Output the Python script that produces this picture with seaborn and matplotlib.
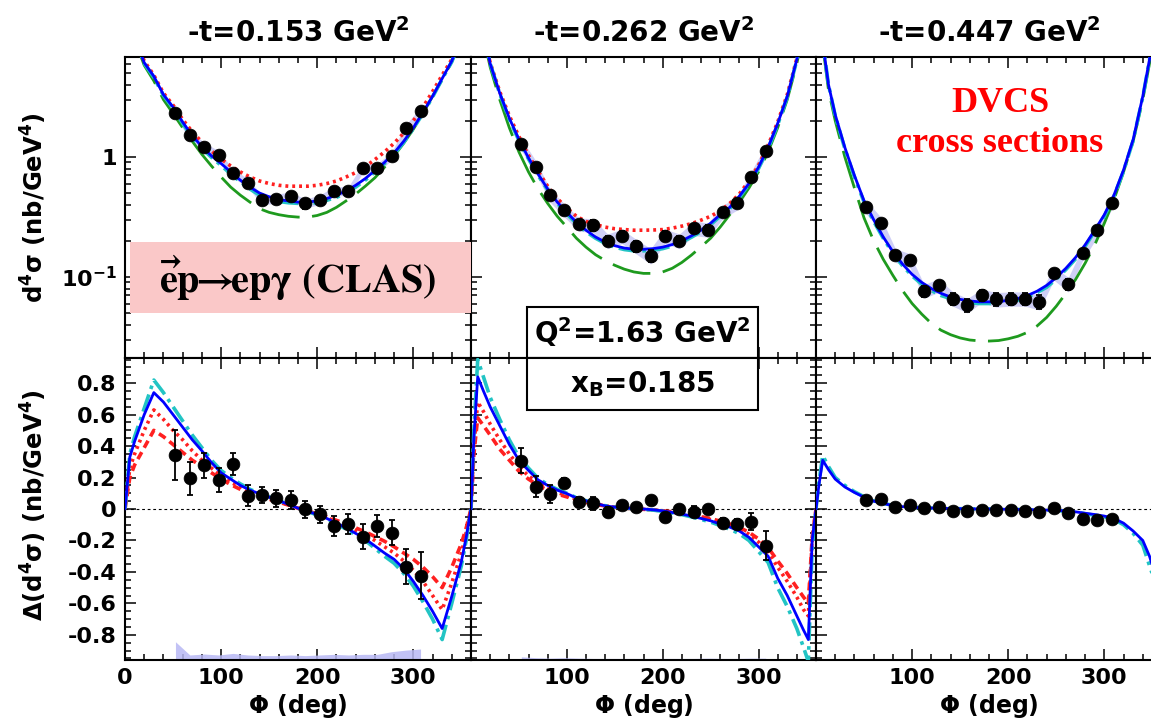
import matplotlib
matplotlib.use("Agg")
import matplotlib.pyplot as plt
import numpy as np
import pandas as pd
import seaborn as sns
from matplotlib.patches import Rectangle
from matplotlib.ticker import MultipleLocator, FixedLocator, NullFormatter, LogLocator

# ------------------------------------------------------------------ data
PANEL_TITLES = [r"-t=0.153 GeV$^{\mathbf{2}}$", r"-t=0.262 GeV$^{\mathbf{2}}$",
                r"-t=0.447 GeV$^{\mathbf{2}}$"]

PHI_DATA = [52.5, 67.5, 82.5, 97.5, 112.5, 127.5, 142.5, 157.5, 172.5, 187.5,
            202.5, 217.5, 232.5, 247.5, 262.5, 277.5, 292.5, 307.5]

# model-curve phi grids
PHI_A = [0, 5, 10, 20, 30, 40, 50, 60, 70, 80, 90, 100, 110, 120, 130, 140, 150,
         160, 170, 180, 190, 200, 210, 220, 230, 240, 250, 260, 270, 280, 290,
         300, 310, 320, 330, 340, 350, 355, 360]
PHI_B = [0, 3, 7, 13, 20, 30, 40, 50, 60, 70, 80, 90, 100, 110, 120, 130, 140,
         150, 160, 170, 180, 190, 200, 210, 220, 230, 240, 250, 260, 270, 280,
         290, 300, 310, 320, 330, 340, 347, 352, 356, 360]

# ---- panel 1 (-t = 0.153)
TOP1_BLUE = [30, 16, 10, 6.1, 4.7, 3.3, 2.6, 1.95, 1.5, 1.22,
             1.02, 0.88, 0.75, 0.64, 0.56, 0.5, 0.465, 0.44, 0.43, 0.42,
             0.42, 0.43, 0.45, 0.48, 0.52, 0.58, 0.66, 0.77, 0.9, 1.08,
             1.35, 1.75, 2.35, 3.2, 4.5, 6.3, 10, 16, 30]
TOP1_CYAN = [30, 16, 10, 6.0, 4.6, 3.25, 2.55, 1.9, 1.45, 1.18,
             0.99, 0.85, 0.72, 0.62, 0.54, 0.48, 0.445, 0.425, 0.415, 0.41,
             0.41, 0.415, 0.435, 0.46, 0.5, 0.56, 0.64, 0.75, 0.88, 1.05,
             1.32, 1.72, 2.3, 3.15, 4.45, 6.2, 10, 16, 30]
TOP1_RED = [30, 16, 10, 6.3, 4.8, 3.4, 2.7, 2.05, 1.62, 1.33,
            1.12, 0.96, 0.84, 0.75, 0.68, 0.63, 0.6, 0.58, 0.57, 0.57,
            0.57, 0.58, 0.6, 0.63, 0.68, 0.74, 0.83, 0.95, 1.1, 1.3,
            1.58, 2.0, 2.6, 3.5, 4.8, 6.5, 10, 16, 30]
TOP1_GREEN = [30, 15, 9.5, 5.8, 4.3, 3.0, 2.3, 1.75, 1.35, 1.05,
              0.84, 0.68, 0.56, 0.48, 0.42, 0.37, 0.345, 0.33, 0.32, 0.315,
              0.315, 0.325, 0.345, 0.38, 0.43, 0.49, 0.57, 0.67, 0.82, 1.02,
              1.3, 1.7, 2.3, 3.2, 4.4, 6.2, 9.5, 15, 30]
BOT1_BLUE = [0.0, 0.33, 0.43, 0.6, 0.74, 0.68, 0.6, 0.52, 0.44, 0.37,
             0.295, 0.23, 0.19, 0.15, 0.12, 0.097, 0.075, 0.053, 0.03, 0.005,
             -0.014, -0.035, -0.06, -0.09, -0.12, -0.155, -0.19, -0.235, -0.28, -0.32,
             -0.38, -0.46, -0.55, -0.65, -0.76, -0.555, -0.333, -0.18, 0.0]
BOT1_CYAN = [0.0, 0.35, 0.46, 0.64, 0.82, 0.74, 0.65, 0.56, 0.47, 0.39,
             0.31, 0.245, 0.2, 0.16, 0.125, 0.1, 0.077, 0.054, 0.03, 0.005,
             -0.016, -0.038, -0.065, -0.095, -0.128, -0.165, -0.2, -0.25, -0.3, -0.345,
             -0.41, -0.49, -0.59, -0.7, -0.83, -0.6, -0.36, -0.2, 0.0]
BOT1_RED_DOT = [0.0, 0.26, 0.35, 0.5, 0.63, 0.57, 0.5, 0.44, 0.37, 0.31,
                0.26, 0.21, 0.17, 0.14, 0.11, 0.088, 0.068, 0.048, 0.027, 0.005,
                -0.014, -0.034, -0.056, -0.08, -0.105, -0.135, -0.165, -0.2, -0.24, -0.28,
                -0.33, -0.39, -0.46, -0.55, -0.64, -0.47, -0.28, -0.15, 0.0]
BOT1_RED_DASH = [0.0, 0.2, 0.28, 0.39, 0.5, 0.46, 0.41, 0.36, 0.31, 0.27,
                 0.23, 0.19, 0.155, 0.125, 0.1, 0.08, 0.062, 0.044, 0.025, 0.005,
                 -0.013, -0.031, -0.05, -0.072, -0.095, -0.12, -0.145, -0.175, -0.205, -0.24,
                 -0.28, -0.32, -0.37, -0.43, -0.5, -0.37, -0.22, -0.12, 0.0]
TOP1_D = [2.34, 1.52, 1.22, 1.04, 0.73, 0.61, 0.44, 0.45, 0.47, 0.41,
          0.44, 0.52, 0.52, 0.81, 0.81, 1.02, 1.73, 2.39]
TOP1_E = [0.12, 0.08, 0.06, 0.05, 0.04, 0.04, 0.03, 0.03, 0.03, 0.04,
          0.03, 0.03, 0.03, 0.04, 0.04, 0.05, 0.09, 0.12]
TOP1_S = [0.2, 0.12, 0.1, 0.08, 0.06, 0.05, 0.04, 0.04, 0.04, 0.035,
          0.04, 0.045, 0.045, 0.07, 0.07, 0.08, 0.14, 0.2]
BOT1_D = [0.343, 0.195, 0.279, 0.184, 0.286, 0.085, 0.089, 0.068, 0.057, -0.002,
          -0.034, -0.108, -0.095, -0.176, -0.108, -0.15, -0.366, -0.425]
BOT1_E = [0.157, 0.103, 0.08, 0.076, 0.069, 0.068, 0.053, 0.053, 0.059, 0.056,
          0.053, 0.061, 0.063, 0.08, 0.069, 0.08, 0.111, 0.15]
BOT1_S = [0.116, 0.032, 0.038, 0.032, 0.042, 0.032, 0.028, 0.028, 0.032, 0.028,
          0.032, 0.036, 0.032, 0.036, 0.036, 0.053, 0.063, 0.07]

# ---- panel 2 (-t = 0.262)
TOP2_BLUE = [60, 40, 22, 11,
             6.0, 3.4, 2.1, 1.4, 0.98, 0.72, 0.54, 0.42, 0.345, 0.285,
             0.245, 0.215, 0.195, 0.182, 0.174, 0.17, 0.17, 0.172, 0.177, 0.186,
             0.2, 0.22, 0.245, 0.28, 0.33, 0.38, 0.47, 0.6, 0.82, 1.2,
             1.9, 3.2, 6.5, 12, 20, 35, 60]
TOP2_CYAN = [60, 40, 22, 11,
             6.0, 3.35, 2.05, 1.37, 0.96, 0.7, 0.53, 0.41, 0.335, 0.278,
             0.238, 0.21, 0.19, 0.177, 0.169, 0.165, 0.165, 0.167, 0.172, 0.181,
             0.195, 0.214, 0.238, 0.272, 0.32, 0.37, 0.46, 0.59, 0.8, 1.17,
             1.85, 3.15, 6.4, 12, 20, 35, 60]
TOP2_RED = [60, 40, 22, 11,
            6.1, 3.5, 2.2, 1.48, 1.03, 0.76, 0.57, 0.45, 0.375, 0.32,
            0.29, 0.273, 0.26, 0.252, 0.248, 0.245, 0.245, 0.246, 0.248, 0.255,
            0.265, 0.278, 0.297, 0.32, 0.355, 0.41, 0.49, 0.63, 0.85, 1.25,
            1.95, 3.3, 6.6, 12, 20, 35, 60]
TOP2_GREEN = [60, 38, 20, 10,
              5.6, 3.0, 1.75, 1.1, 0.75, 0.54, 0.41, 0.32, 0.26, 0.21,
              0.177, 0.153, 0.137, 0.125, 0.116, 0.11, 0.107, 0.107, 0.11, 0.118,
              0.132, 0.152, 0.178, 0.21, 0.26, 0.33, 0.42, 0.55, 0.75, 1.1,
              1.75, 3.0, 6.0, 11, 19, 33, 60]
BOT2_BLUE = [0.0, 0.45, 0.84, 0.75,
             0.65, 0.53, 0.41, 0.31, 0.245, 0.185, 0.15, 0.12, 0.098, 0.07,
             0.052, 0.035, 0.02, 0.012, 0.007, 0.003, 0.0, -0.005, -0.012, -0.022,
             -0.032, -0.045, -0.06, -0.075, -0.095, -0.115, -0.14, -0.18, -0.24, -0.3,
             -0.44, -0.55, -0.68, -0.77, -0.83, -0.2, 0.0]
BOT2_CYAN = [0.0, 0.5, 0.95, 0.84,
             0.71, 0.57, 0.44, 0.33, 0.26, 0.195, 0.155, 0.125, 0.1, 0.072,
             0.053, 0.036, 0.021, 0.012, 0.006, 0.002, -0.002, -0.007, -0.015, -0.025,
             -0.036, -0.05, -0.066, -0.083, -0.105, -0.128, -0.157, -0.2, -0.27, -0.34,
             -0.5, -0.62, -0.76, -0.88, -0.97, -0.25, 0.0]
BOT2_RED_DOT = [0.0, 0.4, 0.68, 0.62,
                0.54, 0.44, 0.35, 0.27, 0.21, 0.165, 0.13, 0.105, 0.085, 0.062,
                0.046, 0.032, 0.02, 0.012, 0.006, 0.002, -0.002, -0.006, -0.012, -0.02,
                -0.029, -0.04, -0.053, -0.067, -0.085, -0.104, -0.127, -0.16, -0.21, -0.27,
                -0.37, -0.46, -0.56, -0.64, -0.68, -0.2, 0.0]
BOT2_RED_DASH = [0.0, 0.35, 0.58, 0.53,
                 0.47, 0.38, 0.31, 0.24, 0.19, 0.15, 0.12, 0.095, 0.077, 0.057,
                 0.042, 0.03, 0.019, 0.011, 0.006, 0.002, -0.002, -0.006, -0.011, -0.018,
                 -0.026, -0.036, -0.048, -0.061, -0.077, -0.095, -0.117, -0.148, -0.19, -0.245,
                 -0.33, -0.41, -0.5, -0.56, -0.6, -0.18, 0.0]
TOP2_D = [1.28, 0.83, 0.48, 0.36, 0.275, 0.27, 0.2, 0.22, 0.18, 0.15,
          0.22, 0.2, 0.256, 0.248, 0.35, 0.41, 0.68, 1.12]
TOP2_E = [0.08, 0.06, 0.03, 0.025, 0.02, 0.03, 0.02, 0.02, 0.02, 0.018,
          0.02, 0.02, 0.02, 0.025, 0.025, 0.03, 0.05, 0.07]
TOP2_S = [0.15, 0.1, 0.06, 0.045, 0.035, 0.035, 0.028, 0.03, 0.025, 0.022,
          0.03, 0.028, 0.035, 0.034, 0.045, 0.05, 0.08, 0.13]
BOT2_D = [0.307, 0.142, 0.095, 0.167, 0.046, 0.036, -0.017, 0.025, 0.011, 0.057,
          -0.049, 0.0, -0.017, -0.002, -0.087, -0.095, -0.081, -0.235]
BOT2_E = [0.081, 0.067, 0.058, 0.03, 0.032, 0.04, 0.032, 0.025, 0.027, 0.025,
          0.025, 0.027, 0.034, 0.029, 0.029, 0.031, 0.053, 0.092]
BOT2_S = [0.02, 0.015, 0.012, 0.015, 0.012, 0.01, 0.01, 0.01, 0.01, 0.01,
          0.01, 0.01, 0.01, 0.012, 0.01, 0.01, 0.012, 0.012]

# ---- panel 3 (-t = 0.447)
TOP3_BLUE = [60, 25, 9.0, 4.0,
             2.25, 1.2, 0.7, 0.43, 0.3, 0.215, 0.162, 0.128, 0.105, 0.09,
             0.08, 0.073, 0.068, 0.065, 0.063, 0.062, 0.062, 0.062, 0.064, 0.066,
             0.07, 0.076, 0.085, 0.099, 0.118, 0.145, 0.185, 0.245, 0.33, 0.48,
             0.78, 1.4, 3.2, 6.5, 12, 25, 60]
TOP3_CYAN = [60, 25, 9.0, 4.0,
             2.2, 1.17, 0.68, 0.42, 0.29, 0.21, 0.157, 0.124, 0.102, 0.087,
             0.077, 0.07, 0.066, 0.063, 0.061, 0.06, 0.06, 0.06, 0.062, 0.064,
             0.068, 0.074, 0.082, 0.096, 0.115, 0.141, 0.18, 0.24, 0.32, 0.47,
             0.76, 1.37, 3.15, 6.4, 12, 25, 60]
TOP3_GREEN = [60, 24, 8.5, 3.6,
              2.0, 1.0, 0.55, 0.31, 0.2, 0.14, 0.103, 0.077, 0.06, 0.049,
              0.041, 0.036, 0.033, 0.031, 0.0298, 0.0293, 0.0292, 0.0295, 0.0305, 0.032,
              0.0345, 0.039, 0.046, 0.057, 0.073, 0.095, 0.13, 0.185, 0.28, 0.44,
              0.75, 1.35, 3.0, 6.0, 11, 24, 60]
BOT3_BLUE = [0.0, 0.15, 0.31, 0.25,
             0.19, 0.14, 0.105, 0.075, 0.05, 0.035, 0.022, 0.015, 0.01, 0.008,
             0.006, 0.005, 0.003, 0.002, 0.001, 0.0, 0.0, -0.001, -0.002, -0.003,
             -0.004, -0.005, -0.007, -0.009, -0.012, -0.018, -0.027, -0.035, -0.045, -0.06,
             -0.09, -0.14, -0.2, -0.3, -0.4, -0.3, 0.0]
BOT3_CYAN = [0.0, 0.17, 0.34, 0.27,
             0.2, 0.15, 0.11, 0.078, 0.052, 0.036, 0.023, 0.016, 0.011, 0.008,
             0.006, 0.005, 0.003, 0.002, 0.001, 0.0, 0.0, -0.001, -0.002, -0.003,
             -0.004, -0.006, -0.008, -0.01, -0.014, -0.02, -0.03, -0.04, -0.05, -0.067,
             -0.1, -0.155, -0.23, -0.36, -0.45, -0.33, 0.0]
TOP3_D = [0.383, 0.279, 0.152, 0.138, 0.0764, 0.0853, 0.066, 0.058, 0.0704, 0.065,
          0.066, 0.066, 0.062, 0.108, 0.087, 0.157, 0.245, 0.414]
TOP3_E = [0.025, 0.02, 0.01, 0.01, 0.008, 0.008, 0.008, 0.007, 0.008, 0.008,
          0.008, 0.008, 0.008, 0.009, 0.009, 0.012, 0.018, 0.03]
TOP3_S = [0.05, 0.035, 0.02, 0.018, 0.01, 0.011, 0.009, 0.008, 0.009, 0.009,
          0.009, 0.009, 0.009, 0.014, 0.012, 0.02, 0.03, 0.05]
BOT3_D = [0.057, 0.061, 0.011, 0.025, 0.004, 0.015, -0.013, -0.013, -0.006, -0.006,
          -0.006, -0.011, -0.021, 0.004, -0.027, -0.065, -0.07, -0.065]
BOT3_E = [0.012, 0.01, 0.01, 0.01, 0.01, 0.01, 0.01, 0.01, 0.01, 0.01,
          0.01, 0.01, 0.01, 0.01, 0.01, 0.012, 0.012, 0.012]
BOT3_S = [0.006, 0.005, 0.005, 0.005, 0.005, 0.005, 0.005, 0.005, 0.005, 0.005,
          0.005, 0.005, 0.005, 0.005, 0.005, 0.005, 0.005, 0.006]

Y_TOP_LIM = (0.0211, 6.8)
Y_BOT_LIM = (-0.96, 0.96)

# ------------------------------------------------------------------ style
sns.set_theme(style="ticks")
plt.rcParams["font.family"] = ["DejaVu Sans"]
plt.rcParams["font.weight"] = "bold"
plt.rcParams["mathtext.fontset"] = "dejavusans"
plt.rcParams["text.color"] = "black"
plt.rcParams["axes.labelcolor"] = "black"
plt.rcParams["axes.edgecolor"] = "black"
plt.rcParams["axes.linewidth"] = 1.5
plt.rcParams["xtick.color"] = "black"
plt.rcParams["ytick.color"] = "black"
plt.rcParams["xtick.labelcolor"] = "black"
plt.rcParams["ytick.labelcolor"] = "black"

STY = {
    "green": dict(color="#1e9a1e", linewidth=2.0, linestyle=(0, (14, 4.5))),
    "red_dash": dict(color="#ff2020", linewidth=2.6, linestyle=(0, (2.2, 1.4))),
    "red_dot": dict(color="#ff2020", linewidth=2.6, linestyle=(0, (0.8, 1.1))),
    "cyan": dict(color="#22c4c4", linewidth=2.6, linestyle=(0, (5, 1.6, 1, 1.6))),
    "blue": dict(color="#0000ff", linewidth=2.0, linestyle="-"),
}
ORDER = ["green", "red_dash", "red_dot", "cyan", "blue"]

W, H = 1151.0, 725.0
COLS = [(125, 471), (471, 816), (816, 1162)]
ROWS = [(57, 358), (358, 660)]


def rect(c, r):
    x0, x1 = c
    y0, y1 = r
    return [x0 / W, 1 - y1 / H, (x1 - x0) / W, (y1 - y0) / H]


panels = [
    dict(phi=PHI_A,
         top=dict(green=TOP1_GREEN, red_dot=TOP1_RED, cyan=TOP1_CYAN, blue=TOP1_BLUE),
         bot=dict(red_dash=BOT1_RED_DASH, red_dot=BOT1_RED_DOT, cyan=BOT1_CYAN, blue=BOT1_BLUE),
         td=TOP1_D, te=TOP1_E, ts=TOP1_S, bd=BOT1_D, be=BOT1_E, bs=BOT1_S),
    dict(phi=PHI_B,
         top=dict(green=TOP2_GREEN, red_dot=TOP2_RED, cyan=TOP2_CYAN, blue=TOP2_BLUE),
         bot=dict(red_dash=BOT2_RED_DASH, red_dot=BOT2_RED_DOT, cyan=BOT2_CYAN, blue=BOT2_BLUE),
         td=TOP2_D, te=TOP2_E, ts=TOP2_S, bd=BOT2_D, be=BOT2_E, bs=BOT2_S),
    dict(phi=PHI_B,
         top=dict(green=TOP3_GREEN, cyan=TOP3_CYAN, blue=TOP3_BLUE),
         bot=dict(cyan=BOT3_CYAN, blue=BOT3_BLUE),
         td=TOP3_D, te=TOP3_E, ts=TOP3_S, bd=BOT3_D, be=BOT3_E, bs=BOT3_S),
]

fig = plt.figure(figsize=(11.51, 7.25), dpi=100)


def style_axes(ax):
    ax.tick_params(which="both", direction="in", top=True, right=True,
                   labelsize=16, colors="black", width=1.1)
    ax.tick_params(which="major", length=8, pad=6)
    ax.tick_params(which="minor", length=4)
    for sp in ax.spines.values():
        sp.set_visible(True)
        sp.set_linewidth(1.5)
        sp.set_color("black")


def draw_curves(ax, phi, curves):
    for key in ORDER:
        if key in curves:
            df = pd.DataFrame({"phi": phi, "val": curves[key]})
            sns.lineplot(data=df, x="phi", y="val", ax=ax, errorbar=None,
                         sort=False, legend=False, zorder=3, **STY[key])


def draw_points(ax, x, y, e):
    ax.errorbar(x, y, yerr=e, fmt="none", ecolor="black", elinewidth=1.3,
                capsize=2.5, capthick=1.3, zorder=5)
    sns.scatterplot(x=x, y=y, ax=ax, color="black", s=85, edgecolor="black",
                    linewidth=0.5, zorder=6, legend=False)


for i, p in enumerate(panels):
    axt = fig.add_axes(rect(COLS[i], ROWS[0]))
    axb = fig.add_axes(rect(COLS[i], ROWS[1]))

    # ---------------- top: cross sections (log)
    axt.set_yscale("log")
    td = np.array(p["td"]); ts = np.array(p["ts"])
    axt.fill_between(PHI_DATA, td - ts, td + ts, color="#b0b0f0", alpha=0.6,
                     linewidth=0, zorder=2)
    draw_curves(axt, p["phi"], p["top"])
    draw_points(axt, PHI_DATA, p["td"], p["te"])
    axt.set_xlim(0, 360)
    axt.set_ylim(*Y_TOP_LIM)
    axt.yaxis.set_major_locator(FixedLocator([0.1, 1.0]))
    axt.yaxis.set_minor_locator(LogLocator(base=10, subs=np.arange(2, 10)))
    axt.yaxis.set_minor_formatter(NullFormatter())
    if i == 0:
        axt.set_yticklabels([r"10$^{\mathbf{-1}}$", "1"])
    else:
        axt.set_yticklabels(["", ""])
    axt.xaxis.set_major_locator(MultipleLocator(100))
    axt.xaxis.set_minor_locator(MultipleLocator(20))
    axt.set_xticklabels([])
    style_axes(axt)
    axt.tick_params(labelbottom=False)
    axt.set_xlabel("")
    axt.set_ylabel("")
    axt.set_title(PANEL_TITLES[i], fontsize=20, fontweight="bold", pad=11,
                  color="black")

    # ---------------- bottom: beam-spin difference
    bs = np.array(p["bs"])
    axb.fill_between(PHI_DATA, Y_BOT_LIM[0], Y_BOT_LIM[0] + bs, color="#b8b8f4",
                     alpha=0.85, linewidth=0, zorder=2)
    axb.axhline(0, color="black", linewidth=0.8, linestyle=(0, (2.5, 2.5)), zorder=1)
    draw_curves(axb, p["phi"], p["bot"])
    draw_points(axb, PHI_DATA, p["bd"], p["be"])
    axb.set_xlim(0, 360)
    axb.set_ylim(*Y_BOT_LIM)
    axb.set_xticks([0, 100, 200, 300])
    axb.set_xticklabels(["0" if i == 0 else "", "100", "200", "300"])
    axb.xaxis.set_minor_locator(MultipleLocator(20))
    yt = [-0.8, -0.6, -0.4, -0.2, 0.0, 0.2, 0.4, 0.6, 0.8]
    axb.set_yticks(yt)
    if i == 0:
        axb.set_yticklabels(["-0.8", "-0.6", "-0.4", "-0.2", "0", "0.2", "0.4", "0.6", "0.8"])
    else:
        axb.set_yticklabels([""] * len(yt))
    axb.yaxis.set_minor_locator(MultipleLocator(0.05))
    style_axes(axb)
    axb.set_ylabel("")
    axb.set_xlabel(r"$\Phi$ (deg)", fontsize=17, fontweight="bold", labelpad=3,
                   color="black")

    if i == 1:
        # kinematics box straddling the two rows
        axt.add_patch(Rectangle((0.162, 0.0), 0.67, 0.17, transform=axt.transAxes,
                                facecolor="white", edgecolor="black", linewidth=1.5,
                                zorder=8, clip_on=False))
        axt.text(0.497, 0.085, r"Q$^{\mathbf{2}}$=1.63 GeV$^{\mathbf{2}}$",
                 transform=axt.transAxes, ha="center", va="center",
                 fontsize=20, fontweight="bold", zorder=9, color="black")
        axb.add_patch(Rectangle((0.162, 0.828), 0.67, 0.172, transform=axb.transAxes,
                                facecolor="white", edgecolor="black", linewidth=1.5,
                                zorder=8, clip_on=False))
        axb.text(0.497, 0.912, r"x$_{\mathbf{B}}$=0.185",
                 transform=axb.transAxes, ha="center", va="center",
                 fontsize=20, fontweight="bold", zorder=9, color="black")

# axis titles (rows)
fig.text(34 / W, 1 - 208 / H, r"d$^{\mathbf{4}}\mathrm{\sigma}$ (nb/GeV$^{\mathbf{4}}$)",
         rotation=90, ha="center", va="center", fontsize=17.5, fontweight="bold",
         color="black")
fig.text(34 / W, 1 - 505 / H,
         r"$\Delta$(d$^{\mathbf{4}}\mathrm{\sigma}$) (nb/GeV$^{\mathbf{4}}$)",
         rotation=90, ha="center", va="center", fontsize=17.5, fontweight="bold",
         color="black")

# pink reaction label
fig.patches.append(Rectangle((130 / W, 1 - 313 / H), (471 - 130) / W, (313 - 242) / H,
                             transform=fig.transFigure, facecolor="#fac8c8",
                             edgecolor="none", zorder=10))
fig.text(298 / W, 1 - 293 / H,
         r"$\mathbf{\vec{e}p}\!\!\rightarrow\!\!\mathbf{ep\gamma}\ \mathbf{(CLAS)}$",
         ha="center", va="baseline", fontsize=29, math_fontfamily="stix",
         color="black", zorder=11)

# red annotation
fig.text(1000 / W, 1 - 112 / H, "DVCS", ha="center", va="baseline",
         family="Liberation Serif", fontweight="bold", fontsize=26, color="red", zorder=11)
fig.text(1000 / W, 1 - 152 / H, "cross sections", ha="center", va="baseline",
         family="Liberation Serif", fontweight="bold", fontsize=26, color="red", zorder=11)

fig.savefig("out.png", dpi=100)
